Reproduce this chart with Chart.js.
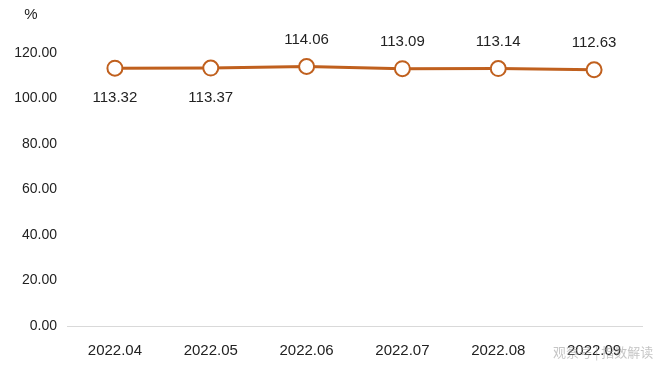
<!DOCTYPE html>
<html>
<head>
<meta charset="utf-8">
<script src="https://cdn.jsdelivr.net/npm/chart.js@4/dist/chart.umd.min.js"></script>
<style>
  html, body { margin: 0; padding: 0; background: #fff; }
  #wrap { width: 660px; height: 367px; }
</style>
</head>
<body>
<div id="wrap"><canvas id="rateChart"></canvas></div>
<script>
const months = ["2022.04", "2022.05", "2022.06", "2022.07", "2022.08", "2022.09"];
const rates = [113.32, 113.37, 114.06, 113.09, 113.14, 112.63];
const labelSide = ["below", "below", "above", "above", "above", "above"];

const FONT = "'Liberation Sans', Arial, sans-serif";

const valueLabels = {
    id: "valueLabels",
    afterDatasetsDraw(chart) {
        const ctx = chart.ctx;
        const meta = chart.getDatasetMeta(0);
        ctx.save();
        ctx.font = "15px " + FONT;
        ctx.fillStyle = "#222";
        ctx.textAlign = "center";
        ctx.textBaseline = "middle";
        meta.data.forEach((pt, i) => {
            const dy = labelSide[i] === "below" ? 30 : -27;
            ctx.fillText(rates[i].toFixed(2), pt.x, pt.y + dy);
        });
        ctx.restore();
    }
};

const extraText = {
    id: "extraText",
    afterDraw(chart) {
        const ctx = chart.ctx;
        ctx.save();
        ctx.font = "15px " + FONT;
        ctx.fillStyle = "#222";
        ctx.textAlign = "center";
        ctx.textBaseline = "middle";
        ctx.fillText("%", 31, 15);
        ctx.font = "13px 'Noto Sans CJK SC', sans-serif";
        ctx.fillStyle = "rgba(150,150,150,0.55)";
        ctx.textAlign = "left";
        ctx.fillText("观察号 | 指数解读", 553, 352);
        ctx.restore();
    }
};

new Chart(document.getElementById("rateChart"), {
    type: "line",
    data: {
        labels: months,
        datasets: [{
            data: rates,
            borderColor: "#c0601e",
            borderWidth: 3,
            pointRadius: 7.5,
            pointHoverRadius: 7.5,
            pointBorderWidth: 2,
            pointBackgroundColor: "#fff",
            pointBorderColor: "#c0601e",
            tension: 0
        }]
    },
    options: {
        responsive: true,
        maintainAspectRatio: false,
        animation: false,
        layout: { padding: { top: 53, right: 18, left: 0, bottom: 0 } },
        plugins: { legend: { display: false }, tooltip: { enabled: false } },
        scales: {
            x: {
                offset: true,
                grid: { display: false },
                border: { display: true, color: "#d9d9d9", width: 1 },
                ticks: { color: "#222", font: { family: FONT, size: 15 }, padding: 8, maxRotation: 0 },
                afterFit(scale) { scale.height = 41; }
            },
            y: {
                min: 0,
                max: 120,
                grid: { display: false, drawTicks: false },
                border: { display: false },
                ticks: {
                    stepSize: 20,
                    color: "#222",
                    font: { family: FONT, size: 14 },
                    padding: 10,
                    callback: (v) => v.toFixed(2)
                },
                afterFit(scale) { scale.width = 67; }
            }
        }
    },
    plugins: [valueLabels, extraText]
});
</script>
</body>
</html>
